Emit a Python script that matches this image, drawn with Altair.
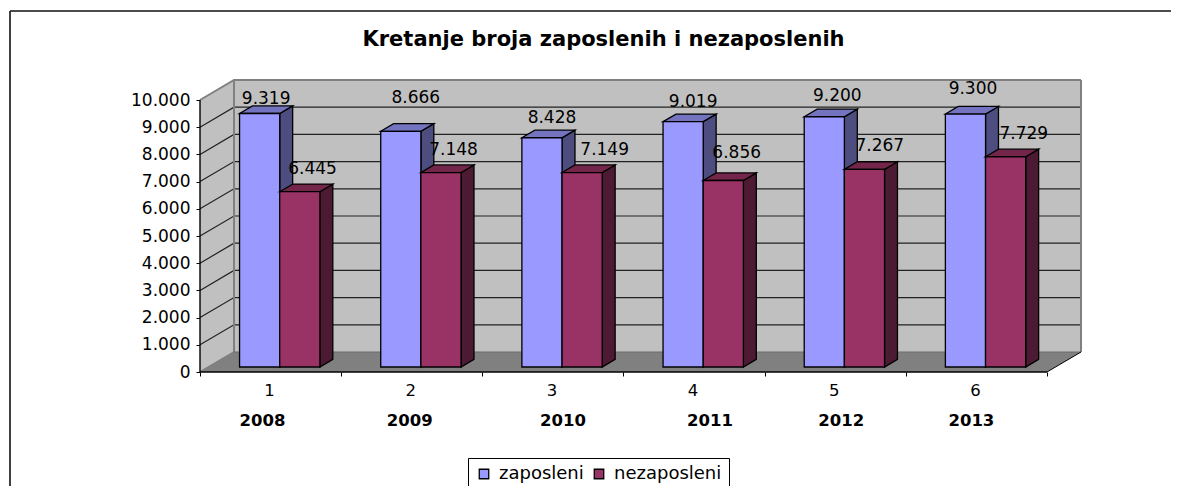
import altair as alt
import pandas as pd

# ---- values
groups = [1, 2, 3, 4, 5, 6]
years = ["2008", "2009", "2010", "2011", "2012", "2013"]
zaposleni = [9319, 8666, 8428, 9019, 9200, 9300]
nezaposleni = [6445, 7148, 7149, 6856, 7267, 7729]
series_names = ["zaposleni", "nezaposleni"]
y_ticks = list(range(0, 11000, 1000))

# ---- hand-placed text nudges in the source chart (pixels)
zap_nudge_x = [6.5, 15, 10, 10, 13, 7.5]
zap_nudge_y = [14.5, 33, 20, 20, 21, 25]
nez_nudge_x = [12.7, 12.6, 22.5, 13.4, 15.3, 18.2]
nez_nudge_y = [22.7, 22.6, 22.5, 27.5, 23.3, 22.8]
year_nudge_x = [-8, -2, 10, 16, 6, -5]

# ---- oblique projection: px per data unit, and shift of the back plane in data units
PX_X = 141.1
PX_Y = 0.0272
DX = 34 / PX_X
DY = 20 / PX_Y
W = 881
H = 292
BAR_LEFT, BAR_W = 0.22, 0.2845
D0, D1 = 0.25, 0.63
FONT = "DejaVu Sans"

xs = alt.Scale(domain=[0, 6 + DX], nice=False, zero=False, padding=0)
ys = alt.Scale(domain=[0, 10000 + DY], nice=False, zero=False, padding=0)
x_axis = alt.Axis(values=[0] + groups, labels=False, grid=False, tickColor="#000", tickSize=4, domain=False, title=None)
y_axis = alt.Axis(
    values=y_ticks,
    format=",.0f",
    labelExpr="replace(datum.label, ',', '.')",
    grid=False,
    tickColor="#000",
    tickSize=4,
    domain=False,
    labelFont=FONT,
    labelFontSize=17,
    labelColor="#000",
    labelPadding=6,
    title=None,
)
X = alt.X("x:Q", scale=xs, axis=x_axis)
Y = alt.Y("y:Q", scale=ys, axis=y_axis)
Y2 = alt.Y2("y2:Q")


def polygons(s, c, v):
    x0 = c + D0 * DX
    x1 = x0 + BAR_W
    d = (D1 - D0) * DX
    b0, b1 = D0 * DY, D1 * DY
    t0, t1 = v + b0, v + b1
    side = [(x1, t0, b0), (x1 + d, t1, b1)]
    top = [(x0, t0, t0), (x0 + d, t1, t0), (x1, t1, t0), (x1 + d, t1, t1)]
    return (
        [dict(pid=f"{s}{c}", x=a, y=e, y2=f) for a, e, f in side],
        [dict(pid=f"{s}{c}", x=a, y=e, y2=f) for a, e, f in top],
        dict(series=s, x=x0, x2=x1, y=t0, y2=b0),
    )


def bar_layers(name, values, offset, side_col, top_col):
    sides, tops, fronts = [], [], []
    for g, v in zip(groups, values):
        a, b, c = polygons(name, g - 1 + BAR_LEFT + offset, v)
        sides += a
        tops += b
        fronts.append(c)
    side = alt.Chart(pd.DataFrame(sides)).mark_area(color=side_col, stroke="#000", strokeWidth=1.3, opacity=1).encode(X, Y, Y2, detail="pid:N")
    top = alt.Chart(pd.DataFrame(tops)).mark_area(color=top_col, stroke="#000", strokeWidth=1.3, opacity=1).encode(X, Y, Y2, detail="pid:N")
    front = alt.Chart(pd.DataFrame(fronts)).mark_rect(stroke="#000", strokeWidth=1.3).encode(
        x=X,
        x2="x2:Q",
        y=Y,
        y2=Y2,
        color=alt.Color(
            "series:N",
            scale=alt.Scale(domain=series_names, range=["#9999FF", "#993366"]),
            legend=alt.Legend(
                title=None,
                orient="none",
                legendX=268,
                legendY=378,
                direction="horizontal",
                symbolType="square",
                symbolSize=90,
                symbolStrokeColor="#000",
                symbolStrokeWidth=1.3,
                symbolOpacity=1,
                labelFont=FONT,
                labelFontSize=18,
                labelColor="#000",
                labelOffset=6,
                columnPadding=6,
                padding=7,
                strokeColor="#000",
                fillColor="#fff",
                labelLimit=300,
            ),
        ),
    )
    return [side, top, front]


# ---- frame of the 3-D box
left_wall = pd.DataFrame([dict(x=0, y=0, y2=10000), dict(x=DX, y=DY, y2=10000 + DY)])
back_wall = pd.DataFrame([dict(x=DX, y=DY, y2=10000 + DY), dict(x=6 + DX, y=DY, y2=10000 + DY)])
floor = pd.DataFrame(
    [dict(x=0, y=0, y2=0), dict(x=DX, y=0, y2=DY), dict(x=6, y=0, y2=DY), dict(x=6 + DX, y=DY, y2=DY)]
)
grid_rows = []
for t in y_ticks[1:-1]:
    grid_rows += [dict(t=t, x=0, y=t), dict(t=t, x=DX, y=t + DY), dict(t=t, x=6 + DX, y=t + DY)]
grid = pd.DataFrame(grid_rows)
top_edge = pd.DataFrame([dict(x=0, y=10000), dict(x=DX, y=10000 + DY), dict(x=6 + DX, y=10000 + DY)])
floor_edge = pd.DataFrame([dict(x=6, y=0), dict(x=6 + DX, y=DY)])
inner_edge = pd.DataFrame([dict(x=0, y=0), dict(x=DX, y=DY)])
back_left = pd.DataFrame([dict(x=DX, y=DY), dict(x=DX, y=10000 + DY)])
back_right = pd.DataFrame([dict(x=6 + DX, y=DY), dict(x=6 + DX, y=10000 + DY)])
floor_back = pd.DataFrame([dict(x=DX, y=DY), dict(x=6 + DX, y=DY)])


def poly(df, color):
    return alt.Chart(df).mark_area(color=color, opacity=1).encode(X, Y, Y2)


def line(df, color, width, detail=None, order="x:Q"):
    c = alt.Chart(df).mark_line(color=color, strokeWidth=width, interpolate="linear", clip=False)
    enc = dict(x=X, y=Y, order=order)
    if detail:
        enc["detail"] = detail
    return c.encode(**enc)


# ---- data labels, centred on each bar front and moved by the source chart's nudges
label_rows = []
for i, g in enumerate(groups):
    for off, v, nx, ny in (
        (0.0, zaposleni[i], zap_nudge_x[i], zap_nudge_y[i]),
        (BAR_W, nezaposleni[i], nez_nudge_x[i], nez_nudge_y[i]),
    ):
        label_rows.append(
            dict(
                x=g - 1 + BAR_LEFT + off + D0 * DX + BAR_W / 2 + nx / PX_X,
                y=v + D0 * DY + ny / PX_Y,
                label=f"{v:,}".replace(",", "."),
            )
        )
labels = alt.Chart(pd.DataFrame(label_rows)).mark_text(
    font=FONT, fontSize=17, color="#000", baseline="middle", align="center"
).encode(x=X, y=Y, text="label:N")

cat_df = pd.DataFrame({"x": [g - 0.5 for g in groups], "label": [str(g) for g in groups]})
cats = alt.Chart(cat_df).mark_text(font=FONT, fontSize=16.5, color="#000", baseline="middle", dx=-1).encode(
    x=X, y=alt.value(H + 19), text="label:N"
)
year_df = pd.DataFrame({"x": [g - 0.5 + n / PX_X for g, n in zip(groups, year_nudge_x)], "label": years})
year_text = alt.Chart(year_df).mark_text(
    font=FONT, fontSize=16.5, fontWeight="bold", color="#000", baseline="middle"
).encode(x=X, y=alt.value(H + 48.5), text="label:N")

one = alt.Chart(pd.DataFrame({"a": [0]}))
border_left = one.mark_rule(color="#111", strokeWidth=1.6).encode(
    x=alt.value(-190), y=alt.value(-69), y2=alt.value(H + 200)
)
border_top = one.mark_rule(color="#111", strokeWidth=1.6).encode(
    x=alt.value(-190), x2=alt.value(W + 200), y=alt.value(-69)
)

layers = [
    poly(left_wall, "#C0C0C0"),
    poly(back_wall, "#C0C0C0"),
    poly(floor, "#808080"),
    line(grid, "#222", 1.2, "t:N"),
    line(top_edge, "#808080", 2),
    line(inner_edge, "#808080", 2),
    line(back_left, "#808080", 2, order="y:Q"),
    line(back_right, "#808080", 2, order="y:Q"),
    line(floor_back, "#6a6a6a", 1),
    line(floor_edge, "#000", 1),
]
layers += bar_layers("zaposleni", zaposleni, 0.0, "#4D4D80", "#7373BF")
layers += bar_layers("nezaposleni", nezaposleni, BAR_W, "#4D1A33", "#732649")
# axis lines drawn over the floor
axis_x = alt.Chart(pd.DataFrame({"x": [0, 6], "y": [0, 0]})).mark_line(color="#000", strokeWidth=1.4).encode(X, Y)
axis_y = line(pd.DataFrame({"x": [0, 0], "y": [0, 10000]}), "#000", 1.4, order="y:Q")
layers += [axis_x, axis_y, labels, cats, year_text, border_left, border_top]

chart = (
    alt.layer(*layers)
    .resolve_scale(x="shared", y="shared")
    .properties(
        width=W,
        height=H,
        padding={"left": 192, "top": 72, "right": 90, "bottom": 114},
        autosize=alt.AutoSizeParams(type="none"),
        background="#ffffff",
        title=alt.TitleParams(
            "Kretanje broja zaposlenih i nezaposlenih",
            font=FONT,
            fontSize=21,
            fontWeight="bold",
            color="#000",
            anchor="middle",
            frame="group",
            dx=-37,
            offset=-51,
            baseline="middle",
        ),
    )
    .configure_view(stroke=None)
)

chart.save("out.html", embed_options={"renderer": "svg", "actions": False})
